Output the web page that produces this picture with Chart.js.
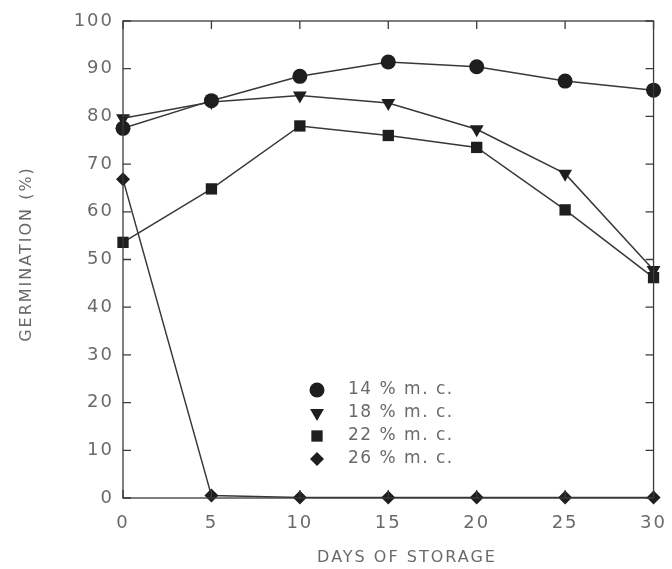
<!DOCTYPE html>
<html>
<head>
<meta charset="utf-8">
<script src="https://cdn.jsdelivr.net/npm/chart.js@4.4.0/dist/chart.umd.min.js"></script>
<style>
  html, body { margin: 0; padding: 0; background: #fff; }
  #wrap { width: 672px; height: 569px; }
</style>
</head>
<body>
<div id="wrap"><canvas id="germChart" width="672" height="569"></canvas></div>
<script>
// Days of storage (x values)
const days = [0, 5, 10, 15, 20, 25, 30];

// Germination % for each moisture content
const mc14 = [77.5, 83.3, 88.4, 91.4, 90.4, 87.4, 85.5];
const mc18 = [79.6, 83.0, 84.4, 82.8, 77.3, 68.0, 47.8];
const mc22 = [53.6, 64.8, 78.0, 76.0, 73.5, 60.4, 46.2];
const mc26 = [66.8, 0.5, 0.1, 0.1, 0.1, 0.1, 0.1];

const seriesLabels = ['14 % m. c.', '18 % m. c.', '22 % m. c.', '26 % m. c.'];
const yTicks = [0, 10, 20, 30, 40, 50, 60, 70, 80, 90, 100];
const xTicks = [0, 5, 10, 15, 20, 25, 30];
const xTitle = 'DAYS OF STORAGE';
const yTitle = 'GERMINATION (%)';

const inkColor = '#383838';
const textColor = '#6a6a6a';
const fontFamily = '"DejaVu Sans", sans-serif';

function toPoints(values) {
    return values.map((v, i) => ({ x: days[i], y: v }));
}

function makeDataset(label, values, style, radius, rotation) {
    return {
        label: label,
        data: toPoints(values),
        borderColor: inkColor,
        borderWidth: 1.5,
        backgroundColor: inkColor,
        pointBackgroundColor: '#1e1e1e',
        pointBorderColor: '#1e1e1e',
        pointBorderWidth: 0,
        pointStyle: style,
        pointRadius: radius,
        pointRotation: rotation || 0,
        tension: 0,
        clip: false
    };
}

// Wider letter spacing for the tick labels, like the original lettering
const spacing = {
    id: 'spacing',
    beforeDraw(chart) {
        chart.ctx.letterSpacing = '2px';
    }
};

// Draws the frame with inward ticks, axis titles and the inset legend
const frameAndLegend = {
    id: 'frameAndLegend',
    afterDatasetsDraw(chart) {
        const { ctx, chartArea, scales } = chart;
        const { left, right, top, bottom } = chartArea;
        const tickLen = 8;
        ctx.save();
        ctx.strokeStyle = '#3a3a3a';
        ctx.lineWidth = 1.3;
        ctx.strokeRect(left, top, right - left, bottom - top);
        ctx.beginPath();
        yTicks.forEach(v => {
            const y = scales.y.getPixelForValue(v);
            ctx.moveTo(left, y); ctx.lineTo(left + tickLen, y);
            ctx.moveTo(right, y); ctx.lineTo(right - tickLen, y);
        });
        xTicks.forEach(v => {
            const x = scales.x.getPixelForValue(v);
            ctx.moveTo(x, top); ctx.lineTo(x, top + tickLen);
            ctx.moveTo(x, bottom); ctx.lineTo(x, bottom - tickLen);
        });
        ctx.stroke();

        // Axis titles
        ctx.fillStyle = textColor;
        ctx.font = '16px ' + fontFamily;
        ctx.letterSpacing = '2px';
        ctx.textAlign = 'center';
        ctx.textBaseline = 'middle';
        ctx.fillText(xTitle, 407, 558);
        ctx.save();
        ctx.translate(27, 254);
        ctx.rotate(-Math.PI / 2);
        ctx.fillText(yTitle, 0, 0);
        ctx.restore();

        // Legend inside the plot
        const lx = 317, ly0 = 390, step = 23;
        ctx.font = '17px ' + fontFamily;
        ctx.textAlign = 'left';
        ctx.letterSpacing = '1.5px';
        chart.data.datasets.forEach((ds, i) => {
            const y = ly0 + i * step;
            ctx.fillStyle = '#1e1e1e';
            Chart.helpers.drawPoint(ctx, {
                pointStyle: ds.pointStyle,
                radius: ds.pointRadius,
                rotation: ds.pointRotation,
                borderWidth: 0
            }, lx, y);
            ctx.fillStyle = textColor;
            ctx.fillText(ds.label, lx + 31, y);
        });
        ctx.restore();
    }
};

const ctx = document.getElementById('germChart');
new Chart(ctx, {
    type: 'line',
    data: {
        datasets: [
            makeDataset(seriesLabels[0], mc14, 'circle', 7.5),
            makeDataset(seriesLabels[1], mc18, 'triangle', 8, 180),
            makeDataset(seriesLabels[2], mc22, 'rect', 8),
            makeDataset(seriesLabels[3], mc26, 'rectRot', 7)
        ]
    },
    options: {
        responsive: false,
        animation: false,
        layout: { padding: { top: 21, right: 15, left: 0, bottom: 0 } },
        plugins: {
            legend: { display: false },
            tooltip: { enabled: false }
        },
        scales: {
            x: {
                type: 'linear',
                min: 0,
                max: 30,
                afterBuildTicks: scale => { scale.ticks = xTicks.map(v => ({ value: v })); },
                afterFit: scale => { scale.height = 71; },
                grid: { display: false },
                border: { display: false },
                ticks: {
                    color: textColor,
                    font: { family: fontFamily, size: 18 },
                    padding: 7
                }
            },
            y: {
                min: 0,
                max: 100,
                afterBuildTicks: scale => { scale.ticks = yTicks.map(v => ({ value: v })); },
                afterFit: scale => { scale.width = 123; },
                grid: { display: false },
                border: { display: false },
                ticks: {
                    color: textColor,
                    font: { family: fontFamily, size: 18 },
                    padding: 1
                }
            }
        }
    },
    plugins: [spacing, frameAndLegend]
});
</script>
</body>
</html>
